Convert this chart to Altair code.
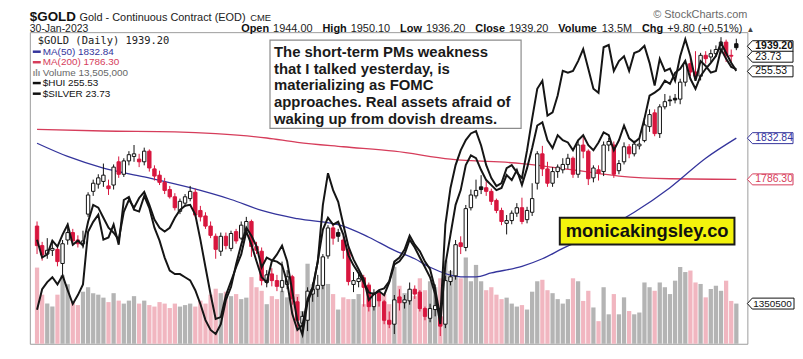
import json
import numpy as np
import pandas as pd
import altair as alt

FONT = "Liberation Sans"

# ---------------- data ----------------
month_days = [
    ("Jul", 2022, [14, 15, 18, 19, 20, 21, 22, 25, 26, 27, 28, 29]),
    ("Aug", 2022, [1, 2, 3, 4, 5, 8, 9, 10, 11, 12, 15, 16, 17, 18, 19, 22, 23, 24, 25, 26, 29, 30, 31]),
    ("Sep", 2022, [1, 2, 6, 7, 8, 9, 12, 13, 14, 15, 16, 19, 20, 21, 22, 23, 26, 27, 28, 29, 30]),
    ("Oct", 2022, [3, 4, 5, 6, 7, 10, 11, 12, 13, 14, 17, 18, 19, 20, 21, 24, 25, 26, 27, 28, 31]),
    ("Nov", 2022, [1, 2, 3, 4, 7, 8, 9, 10, 11, 14, 15, 16, 17, 18, 21, 22, 23, 25, 28, 29, 30]),
    ("Dec", 2022, [1, 2, 5, 6, 7, 8, 9, 12, 13, 14, 15, 16, 19, 20, 21, 22, 23, 27, 28, 29, 30]),
    ("Jan", 2023, [3, 4, 5, 6, 9, 10, 11, 12, 13, 17, 18, 19, 20, 23, 24, 25, 26, 27, 30]),
]
dates = [f"{d:02d}-{m}-{y}" for m, y, days in month_days for d in days]

opens = [1735, 1714, 1705, 1709, 1710, 1695, 1720, 1728, 1720, 1716,
         1748, 1773, 1781, 1784, 1779, 1780, 1806, 1792, 1807, 1812,
         1809, 1806, 1818, 1798, 1791, 1783, 1775, 1767, 1751, 1760,
         1765, 1772, 1752, 1746, 1735, 1724, 1708, 1724, 1711, 1729,
         1722, 1730, 1740, 1713, 1708, 1675, 1684, 1677, 1670, 1673,
         1681, 1655, 1633, 1636, 1663, 1668, 1672, 1703, 1733, 1728,
         1720, 1709, 1673, 1676, 1680, 1672, 1650, 1664, 1655, 1636,
         1632, 1660, 1654, 1656, 1668, 1665, 1648, 1638, 1647, 1640,
         1632, 1676, 1682, 1717, 1712, 1755, 1768, 1778, 1777, 1773,
         1763, 1752, 1738, 1741, 1749, 1755, 1742, 1750, 1782, 1815,
         1798, 1782, 1795, 1797, 1803, 1810, 1792, 1825, 1818, 1788,
         1797, 1795, 1825, 1825, 1796, 1806, 1823, 1815, 1824, 1830,
         1846, 1862, 1838, 1869, 1877, 1879, 1878, 1898, 1920, 1910,
         1905, 1930, 1928, 1932, 1937, 1946, 1930, 1944]
highs = [1740, 1718, 1722, 1720, 1713, 1720, 1738, 1732, 1725, 1730,
         1772, 1786, 1792, 1804, 1786, 1803, 1812, 1810, 1818, 1825,
         1815, 1822, 1820, 1802, 1796, 1788, 1779, 1771, 1765, 1770,
         1779, 1776, 1757, 1750, 1740, 1727, 1728, 1728, 1730, 1732,
         1740, 1745, 1742, 1718, 1712, 1688, 1690, 1683, 1697, 1688,
         1683, 1660, 1645, 1670, 1675, 1683, 1705, 1736, 1737, 1732,
         1724, 1712, 1686, 1684, 1683, 1675, 1668, 1666, 1657, 1645,
         1662, 1668, 1662, 1675, 1672, 1667, 1650, 1653, 1673, 1644,
         1682, 1688, 1720, 1724, 1758, 1775, 1786, 1791, 1784, 1776,
         1765, 1755, 1747, 1752, 1760, 1766, 1756, 1782, 1818, 1824,
         1806, 1800, 1803, 1810, 1815, 1812, 1830, 1835, 1820, 1802,
         1802, 1829, 1833, 1829, 1808, 1828, 1826, 1830, 1832, 1853,
         1866, 1866, 1872, 1884, 1882, 1884, 1902, 1924, 1930, 1935,
         1933, 1935, 1937, 1942, 1952, 1949, 1937, 1950.1]
lows = [1705, 1698, 1700, 1703, 1692, 1682, 1715, 1714, 1712, 1711,
        1745, 1768, 1776, 1778, 1769, 1775, 1788, 1789, 1802, 1806,
        1800, 1802, 1795, 1785, 1780, 1770, 1765, 1752, 1748, 1756,
        1762, 1745, 1740, 1732, 1722, 1700, 1703, 1710, 1708, 1716,
        1720, 1727, 1702, 1705, 1672, 1670, 1671, 1666, 1665, 1668,
        1652, 1627, 1622, 1625, 1655, 1660, 1668, 1700, 1715, 1718,
        1700, 1672, 1665, 1670, 1650, 1645, 1646, 1650, 1632, 1628,
        1622, 1646, 1648, 1652, 1658, 1645, 1636, 1634, 1640, 1620,
        1628, 1672, 1678, 1705, 1708, 1752, 1765, 1770, 1768, 1758,
        1749, 1736, 1726, 1737, 1745, 1737, 1738, 1746, 1775, 1790,
        1778, 1778, 1788, 1793, 1798, 1788, 1788, 1810, 1780, 1783,
        1785, 1790, 1818, 1788, 1792, 1803, 1810, 1812, 1820, 1828,
        1840, 1835, 1833, 1866, 1870, 1873, 1872, 1893, 1905, 1901,
        1900, 1920, 1922, 1928, 1932, 1922, 1922, 1936.2]
closes = [1714, 1704, 1709, 1711, 1697, 1716, 1728, 1719, 1716, 1719,
          1769, 1782, 1788, 1791, 1776, 1800, 1792, 1807, 1814, 1815,
          1806, 1818, 1799, 1790, 1783, 1774, 1767, 1755, 1762, 1767,
          1773, 1747, 1745, 1735, 1725, 1710, 1724, 1714, 1727, 1719,
          1736, 1740, 1713, 1709, 1677, 1683, 1677, 1671, 1677, 1681,
          1658, 1636, 1640, 1666, 1668, 1672, 1702, 1733, 1722, 1724,
          1709, 1676, 1677, 1679, 1670, 1650, 1664, 1656, 1636, 1632,
          1657, 1654, 1657, 1668, 1663, 1648, 1640, 1648, 1651, 1630,
          1677, 1681, 1715, 1713, 1754, 1769, 1774, 1775, 1773, 1762,
          1752, 1740, 1741, 1749, 1755, 1740, 1752, 1765, 1815, 1798,
          1782, 1795, 1800, 1803, 1810, 1792, 1825, 1818, 1787, 1799,
          1793, 1825, 1829, 1792, 1804, 1823, 1815, 1826, 1826, 1848,
          1860, 1838, 1869, 1875, 1876, 1877, 1898, 1920, 1910, 1905,
          1930, 1926, 1932, 1937, 1946, 1930, 1929, 1939.2]
volume_m = [25.6, 16.5, 13.5, 12.5, 16.5, 23.0, 20.0, 14.0, 13.0, 17.5,
            19.0, 17.0, 16.5, 15.5, 14.0, 17.0, 14.5, 13.5, 14.5, 16.0,
            13.5, 14.5, 13.0, 12.5, 14.0, 13.5, 12.0, 13.5, 12.5, 13.0,
            13.5, 12.5, 14.5, 13.5, 16.5, 18.5, 17.0, 17.5, 16.0, 16.7,
            15.0, 15.5, 22.4, 19.0, 17.8, 13.3, 16.0, 15.0, 17.8, 15.6,
            21.2, 16.7, 11.0, 26.9, 20.0, 19.0, 29.0, 20.1, 16.7, 11.5,
            15.6, 15.0, 15.0, 16.7, 13.3, 20.1, 13.3, 16.7, 16.7, 13.3,
            25.8, 19.5, 17.0, 17.5, 16.0, 22.0, 18.0, 21.0, 19.0, 22.0,
            28.0, 24.5, 23.0, 22.0, 29.0, 21.0, 26.5, 21.0, 18.0, 19.0,
            16.5, 15.0, 15.5, 13.5, 12.5, 13.0, 11.5, 17.5, 21.0, 21.5,
            18.0, 17.0, 15.0, 13.5, 15.0, 22.0, 21.0, 14.4, 17.8, 12.2,
            7.6, 19.0, 9.9, 16.7, 9.9, 15.6, 11.0, 9.9, 10.5, 20.6,
            19.0, 17.8, 20.6, 19.0, 16.7, 21.2, 25.8, 24.1, 24.6, 20.6,
            20.1, 15.6, 18.4, 19.5, 17.8, 21.2, 14.4, 13.505]
hui = [201.7, 196.0, 197.0, 201.4, 199.5, 203.3, 206.5, 200.1, 201.4, 199.8,
       207.4, 212.8, 211.9, 208.7, 205.5, 203.9, 201.7, 210.6, 214.4, 211.9,
       215.0, 216.9, 212.8, 208.1, 205.5, 204.3, 205.5, 208.7, 211.2, 212.5,
       212.8, 209.7, 201.7, 192.9, 184.3, 176.4, 177.0, 184.0, 188.4, 192.9,
       197.0, 204.3, 200.1, 194.8, 189.7, 188.1, 194.8, 197.0, 199.8, 194.8,
       185.3, 175.8, 171.4, 181.8, 185.9, 194.8, 204.9, 208.7, 206.5, 207.4,
       203.3, 196.7, 193.5, 191.0, 188.1, 184.9, 184.3, 185.3, 184.0, 188.1,
       193.8, 194.8, 197.0, 201.7, 199.2, 196.0, 192.9, 189.7, 184.3, 174.8,
       193.8, 203.3, 212.8, 217.5, 225.5, 228.6, 227.7, 223.9, 220.7, 219.1,
       217.5, 218.2, 222.3, 220.7, 223.9, 219.1, 224.5, 230.9, 238.1, 239.1,
       233.4, 230.9, 235.0, 233.4, 232.7, 230.2, 233.4, 235.0, 231.8, 230.2,
       232.7, 235.9, 235.0, 230.2, 233.4, 238.1, 234.0, 232.7, 234.0, 240.3,
       247.6, 248.6, 249.8, 252.4, 251.4, 254.9, 256.2, 258.7, 253.0, 249.8,
       253.9, 256.2, 258.1, 260.3, 264.4, 261.2, 258.1, 255.53]
silver = [18.34, 18.80, 18.96, 19.07, 18.91, 19.11, 18.78, 18.47, 18.67, 18.91,
          20.09, 20.31, 20.47, 19.91, 19.96, 20.25, 19.80, 20.80, 20.87, 20.58,
          20.54, 20.89, 20.62, 20.18, 19.89, 19.51, 19.22, 19.14, 19.14, 19.07,
          19.00, 18.78, 18.47, 18.11, 17.89, 17.80, 18.02, 18.56, 18.85, 19.36,
          19.80, 20.18, 20.00, 19.76, 19.29, 19.51, 19.45, 19.42, 19.34, 18.96,
          18.25, 17.89, 18.00, 18.58, 18.85, 19.42, 20.69, 21.40, 21.02, 20.76,
          20.25, 19.76, 19.47, 19.25, 19.02, 18.56, 18.69, 18.78, 18.82, 18.98,
          19.42, 19.51, 19.69, 20.00, 19.80, 19.65, 19.42, 19.25, 18.80, 18.18,
          20.25, 21.07, 21.58, 21.91, 22.14, 22.29, 22.34, 22.02, 21.58, 21.29,
          21.11, 21.18, 21.51, 21.58, 21.42, 21.29, 21.91, 22.62, 23.29, 23.47,
          22.69, 22.76, 23.14, 23.69, 23.65, 23.69, 23.91, 24.18, 23.74, 23.29,
          23.20, 24.22, 24.27, 23.69, 23.91, 24.02, 23.69, 24.09, 24.14, 24.25,
          23.87, 23.36, 23.96, 23.69, 23.74, 23.47, 24.02, 24.40, 24.02, 23.47,
          23.91, 23.80, 23.65, 23.69, 24.18, 23.96, 23.78, 23.73]
ma50_idx = [0, 6, 13, 21, 30, 38, 44, 51, 60, 65, 70, 74, 77, 83, 86, 89, 95, 99, 103, 110, 117, 124, 131, 137]
ma50_val = [1827, 1812, 1799, 1789, 1777, 1764, 1752, 1743, 1735, 1723, 1709, 1700, 1691, 1681, 1681, 1685,
            1692, 1700, 1711, 1728, 1750, 1777, 1810, 1832.84]
ma200_idx = [0, 13, 27, 35, 45, 51, 60, 70, 81, 95, 106, 114, 124, 137]
ma200_val = [1843, 1841, 1840, 1838, 1833, 1828, 1823, 1818, 1809, 1804, 1796, 1790, 1787, 1786.3]

tick_idx = [2, 7, 12, 17, 22, 27, 32, 35, 41, 46, 51, 56, 61, 66, 71, 77, 81, 86, 91, 95, 98, 105, 110, 115,
            119, 123, 128, 132, 137]
tick_text = ["18", "25", "Aug", "8", "15", "22", "29", "Sep", "12", "19", "26", "Oct", "10", "17", "24",
             "Nov", "7", "14", "21", "28", "Dec", "12", "19", "27", "2023", "9", "17", "23", "30"]
month_ticks = [12, 35, 56, 77, 98, 119]
price_levels = [1625, 1650, 1675, 1700, 1725, 1750, 1775, 1800, 1825, 1850, 1875, 1900, 1925, 1950]
vol_levels = [5e6, 10e6, 15e6, 20e6, 25e6, 30e6]

# ---------------- styling ----------------
W, H = 723, 314
RED = "#d8163e"
NAVY = "#34349c"
MA200C = "#d63d5b"
PINK = "#f1b6c0"
GRAY = "#b4b4b4"
GRID = "#e2e2e2"
INK = "#151515"

n = len(dates)
df = pd.DataFrame({"i": range(n), "date": dates, "open": opens, "high": highs, "low": lows,
                   "close": closes, "vol": [v * 1e6 for v in volume_m]})
prev = df["close"].shift(1)
up = (df["close"] >= prev)
df["col"] = np.where(up, "#111111", RED)
df["fillc"] = np.where(df["close"] > df["open"], "#ffffff", df["col"])
df["vcol"] = np.where(up, GRAY, PINK)

lines_df = pd.DataFrame({"i": range(n), "hui": hui, "silver": silver})
ma50_df = pd.DataFrame({"i": ma50_idx, "v": ma50_val})
ma200_df = pd.DataFrame({"i": ma200_idx, "v": ma200_val})

xs = alt.Scale(domain=[-0.44, 138.19], nice=False, zero=False)
price_scale = alt.Scale(type="log", domain=[1612.2, 1958.1], nice=False)
vol_scale = alt.Scale(domain=[0, 104.7e6], nice=False)
hui_scale = alt.Scale(domain=[168.5, 267.87], nice=False, zero=False)
sil_scale = alt.Scale(domain=[17.58, 24.558], nice=False, zero=False)

lab = [""] * n
for k, t in zip(tick_idx, tick_text):
    lab[k] = t
month_test = "indexof(" + json.dumps(month_ticks) + ", datum.value) >= 0"
x_axis = alt.Axis(values=tick_idx, labelExpr=json.dumps(lab) + "[datum.value]", grid=True,
                  gridColor=GRID, domain=False, ticks=False, labelPadding=3, labelAngle=0,
                  labelOverlap=False, labelFlush=False, labelColor="#333", labelFont=FONT,
                  labelFontSize={"condition": {"test": month_test, "value": 12}, "value": 11},
                  labelFontWeight={"condition": {"test": month_test, "value": "bold"}, "value": "normal"},
                  title=None)
X = alt.X("i:Q", scale=xs, axis=None)

TAG = "M-1,0L-0.78,-0.24L1,-0.24L1,0.24L-0.78,0.24Z"
TAGW = "M-1,0L-0.79,-0.234L1,-0.234L1,0.234L-0.79,0.234Z"


def tag(data, field, scale, color, text, bold=False, wide=False, yoff=0):
    d = pd.DataFrame({field: [data], "t": [text]})
    pt = alt.Chart(d).mark_point(shape=TAGW if wide else TAG, size=2209 if wide else 2116, filled=True,
                                 fill="white", stroke=color, strokeWidth=1, opacity=1, yOffset=yoff).encode(
        x=alt.value(746.5 if wide else 746), y=alt.Y(f"{field}:Q", scale=scale, axis=None))
    tx = alt.Chart(d).mark_text(align="left", baseline="middle", fontSize=10 if wide else 10.5, font=FONT,
                                fontWeight="bold" if bold else "normal", color=color, yOffset=yoff).encode(
        x=alt.value(729 if wide else 731), y=alt.Y(f"{field}:Q", scale=scale, axis=None), text="t:N")
    return [pt, tx]


# ---------------- volume ----------------
vol_bars = alt.Chart(df).mark_bar(size=4.3).encode(
    x=alt.X("i:Q", scale=xs, axis=x_axis),
    y=alt.Y("vol:Q", scale=vol_scale,
            axis=alt.Axis(orient="left", values=vol_levels, labelExpr="format(datum.value/1000000,'d') + 'M'",
                          grid=False, domain=False, ticks=True, tickSize=3, tickColor="#999", labelPadding=1,
                          labelFontSize=11, labelColor="#333", labelFont=FONT, title=None)),
    color=alt.Color("vcol:N", scale=None),
)
vol_layer = alt.layer(vol_bars, *tag(13505000, "vol", vol_scale, "#111", "1350500", wide=True))

# ---------------- price ----------------
wicks = alt.Chart(df).mark_rule(strokeWidth=1).encode(
    x=X,
    y=alt.Y("low:Q", scale=price_scale,
            axis=alt.Axis(orient="right", values=price_levels, format="d", grid=True, gridColor=GRID,
                          domain=False, ticks=True, tickSize=3, tickColor="#999", labelPadding=2,
                          labelFontSize=11, labelColor="#333", labelFont=FONT, title=None)),
    y2="high:Q",
    color=alt.Color("col:N", scale=None),
)
bodies = alt.Chart(df).mark_bar(size=3.4, strokeWidth=1).encode(
    x=X,
    y=alt.Y("open:Q", scale=price_scale, axis=None),
    y2="close:Q",
    fill=alt.Fill("fillc:N", scale=None),
    stroke=alt.Stroke("col:N", scale=None),
)
ma50 = alt.Chart(ma50_df).mark_line(color=NAVY, strokeWidth=1.3, interpolate="monotone").encode(
    x=X, y=alt.Y("v:Q", scale=price_scale, axis=None))
ma200 = alt.Chart(ma200_df).mark_line(color=MA200C, strokeWidth=1.3, interpolate="monotone").encode(
    x=X, y=alt.Y("v:Q", scale=price_scale, axis=None))
price_layer = alt.layer(
    ma200, ma50, wicks, bodies,
    *tag(1832.84, "p", price_scale, NAVY, "1832.84"),
    *tag(1786.30, "p", price_scale, MA200C, "1786.30"),
    *tag(1939.20, "p", price_scale, "#111", "1939.20", bold=True, yoff=-1.5),
)

# ---------------- overlays ----------------
silver_line = alt.Chart(lines_df).mark_line(color=INK, strokeWidth=2).encode(
    x=X, y=alt.Y("silver:Q", scale=sil_scale, axis=None))
silver_layer = alt.layer(silver_line, *tag(23.73, "s", sil_scale, "#111", "23.73", yoff=-12.5))
hui_line = alt.Chart(lines_df).mark_line(color=INK, strokeWidth=2).encode(
    x=X, y=alt.Y("hui:Q", scale=hui_scale, axis=None))
hui_layer = alt.layer(hui_line, *tag(255.53, "h", hui_scale, "#111", "255.53", yoff=0.5))


# ---------------- annotations ----------------
def txt(text, x, y, size=10, color="#222", weight="normal", font=FONT, align="left", baseline="alphabetic"):
    return alt.Chart(pd.DataFrame({"t": [text]})).mark_text(
        align=align, baseline=baseline, fontSize=size, font=font, fontWeight=weight, color=color).encode(
        x=alt.value(x), y=alt.value(y), text="t:N")


def dash(x1, x2, y, color):
    return alt.Chart(pd.DataFrame({"a": [0]})).mark_rule(color=color, strokeWidth=2.5).encode(
        x=alt.value(x1), x2=alt.value(x2), y=alt.value(y))


def box(x1, y1, x2, y2, fill, stroke, sw):
    return alt.Chart(pd.DataFrame({"a": [0]})).mark_rect(fill=fill, stroke=stroke, strokeWidth=sw).encode(
        x=alt.value(x1), x2=alt.value(x2), y=alt.value(y1), y2=alt.value(y2))


REGW = {"0": 556, "1": 556, "2": 556, "3": 556, "4": 556, "5": 556, "6": 556, "7": 556, "8": 556,
        "9": 556, ".": 278, " ": 278, "+": 584, "(": 333, ")": 333, "%": 889, "M": 833}
BOLDW = {"O": 778, "p": 611, "e": 556, "n": 611, "H": 722, "i": 278, "g": 611, "h": 611, "L": 611,
         "o": 611, "w": 778, "C": 722, "l": 278, "s": 556, "V": 667, "u": 611, "m": 889}


def tw(s, size, bold=False):
    t = BOLDW if bold else REGW
    return sum(t.get(c, 556) for c in s) * size / 1000.0


ann = []
# header
ann.append(txt("$GOLD", 0, -11.5, size=13.5, weight="bold", color="#111"))
ann.append(txt("Gold - Continuous Contract (EOD)", 50, -11.5, size=11, color="#222"))
ann.append(txt("CME", 222, -11.5, size=9.5, color="#222"))
ann.append(txt("30-Jan-2023", 0, -0.5, size=10.5, color="#222"))
ann.append(txt("\u00a9 StockCharts.com", W, -14, size=11, color="#6a6a6a", align="right"))
pairs = [("Open", "1944.00"), ("High", "1950.10"), ("Low", "1936.20"), ("Close", "1939.20"),
         ("Volume", "13.5M"), ("Chg", "+9.80 (+0.51%)")]
xp = 213.0
for lbl, val in pairs:
    ann.append(txt(lbl, xp, -0.5, size=11, weight="bold", color="#111"))
    xp += tw(lbl, 11, True) + 4
    ann.append(txt(val, xp, -0.5, size=11, color="#222"))
    xp += tw(val, 11) + 10
ann.append(txt("\u25b2", xp - 6, -0.5, size=8, color="#444"))

# legend
ann.append(txt("$GOLD (Daily) 1939.20", 8, 8.7, size=10.5, font="DejaVu Sans Mono", color="#222",
               baseline="middle"))
legend_rows = [("MA(50) 1832.84", NAVY, 19.7), ("MA(200) 1786.30", MA200C, 30.3),
               ("$HUI 255.53", "#111", 51.3), ("$SILVER 23.73", "#111", 62.0)]
for t, c, yy in legend_rows:
    ann.append(dash(3, 11, yy, c))
    ann.append(txt(t, 13, yy, size=10, color=c, baseline="middle"))
ann.append(txt("\u0131l\u0131", 3, 41.3, size=9, weight="bold", color="#888", baseline="middle"))
ann.append(txt("Volume 13,505,000", 13, 41.3, size=10, color="#666", baseline="middle"))

# comment box
ann.append(box(242, 8, 495, 97, "white", "#8c8c8c", 1.2))
comment = ["The short-term PMs weakness", "that I talked yesterday, is", "materializing as FOMC",
           "approaches. Real assets afraid of", "waking up from dovish dreams."]
for k, line in enumerate(comment):
    ann.append(txt(line, 246, 25.3 + 16.7 * k, size=15, weight="bold", color="#1a1a1a"))

# website box
ann.append(box(534, 187, 710, 214, "#f3f30c", "#1a1a1a", 2))
ann.append(txt("monicakingsley.co", 622, 206, size=18.5, weight="bold", color="#111", align="center"))

chart = alt.layer(vol_layer, price_layer, silver_layer, hui_layer, *ann).resolve_scale(
    y="independent"
).properties(
    width=W, height=H,
    padding={"left": 22, "top": 23, "right": 48, "bottom": 13},
    autosize=alt.AutoSizeParams(type="none"),
    background="white",
).configure_view(stroke="#9c9c9c", strokeWidth=1).configure_axis(labelFont=FONT)

chart.save("out.html", embed_options={"renderer": "svg", "actions": False})
